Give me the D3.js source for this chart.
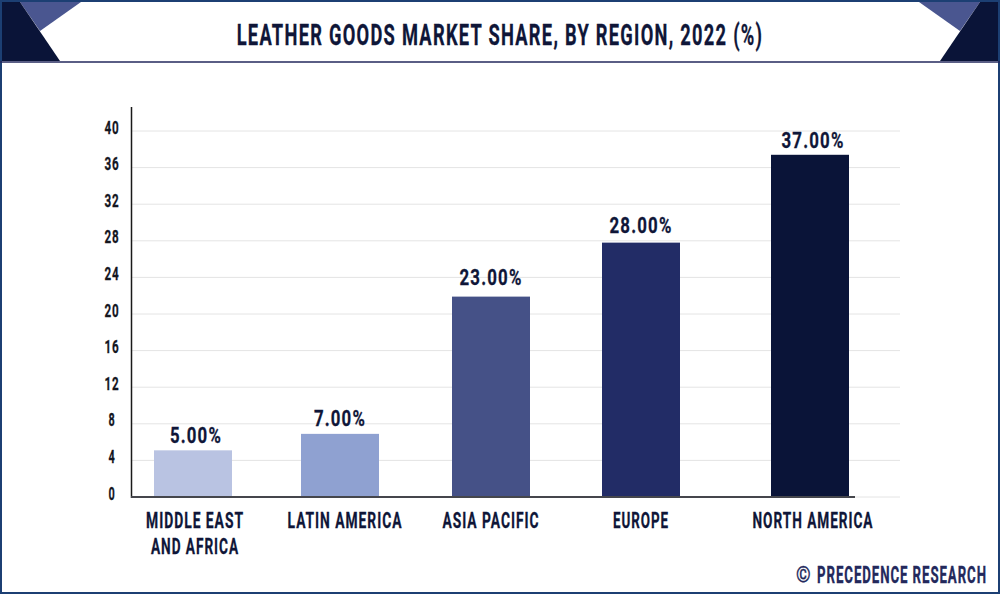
<!DOCTYPE html>
<html>
<head>
<meta charset="utf-8">
<script src="https://cdn.jsdelivr.net/npm/d3@7"></script>
<style>
  html, body { margin: 0; padding: 0; background: #fff; }
  svg { display: block; }
  text { font-family: "Roboto", "Liberation Sans", sans-serif; font-weight: 700; letter-spacing: 0.07em; stroke-width: 0.3px; }
</style>
</head>
<body>
<svg id="chart" width="1000" height="594"></svg>
<script>
// Chart data
const categories = ['MIDDLE EAST|AND AFRICA', 'LATIN AMERICA', 'ASIA PACIFIC', 'EUROPE', 'NORTH AMERICA'];
const barValues = [5.1, 6.9, 21.9, 27.8, 37.4];
const valueLabels = ['5.00%', '7.00%', '23.00%', '28.00%', '37.00%'];
const barColors = ['#b9c3e2', '#8fa1d1', '#455187', '#222c66', '#0a1438'];
const yTicks = [0, 4, 8, 12, 16, 20, 24, 28, 32, 36, 40];

const chartTitle = 'LEATHER GOODS MARKET SHARE, BY REGION, 2022 (%)';
const credit = 'PRECEDENCE RESEARCH';

// Layout
const svg = d3.select('#chart');
const inkColor = '#0f1638';

const x = d3.scaleOrdinal().domain(categories).range([193, 340, 491, 641, 810]);
const y = d3.scaleLinear().domain([0, 40]).range([497, 131]);
const barWidth = 78;

// Draws condensed text: the installed fonts are too wide, so each string is squeezed to a set width
function squeezed(parent, str, cx, baseline, width, size, color) {
  const label = parent.append('text')
    .attr('text-anchor', 'middle')
    .attr('font-size', size)
    .attr('fill', color)
    .attr('stroke', color)
    .text(str);
  const scale = width / label.node().getComputedTextLength();
  label.attr('transform', `translate(${cx},${baseline}) scale(${scale},1)`);
  return label;
}

// Frame and title band
svg.append('rect').attr('x', 1).attr('y', 1).attr('width', 998).attr('height', 592)
  .attr('fill', '#fff').attr('stroke', '#1c3f73').attr('stroke-width', 2);
svg.append('line').attr('x1', 0).attr('x2', 1000).attr('y1', 62).attr('y2', 62)
  .attr('stroke', '#23295c').attr('stroke-width', 1.5);

const corners = svg.append('g');
corners.append('polygon').attr('points', '20,2 81,2 40,31').attr('fill', '#4a5690');
corners.append('polygon').attr('points', '2,2 20,2 60,61 2,61').attr('fill', '#0a1438');
corners.append('polygon').attr('points', '980,2 919,2 960,31').attr('fill', '#4a5690');
corners.append('polygon').attr('points', '998,2 980,2 940,61 998,61').attr('fill', '#0a1438');

squeezed(svg, chartTitle, 500, 45, 527, 29, inkColor);

// Gridlines
svg.append('g').selectAll('line')
  .data(yTicks.filter(d => d > 0))
  .join('line')
  .attr('x1', 132)
  .attr('x2', 900)
  .attr('y1', d => y(d))
  .attr('y2', d => y(d))
  .attr('stroke', '#e4e4e4')
  .attr('stroke-width', 1);
svg.append('line').attr('x1', 855).attr('x2', 900).attr('y1', y(0)).attr('y2', y(0))
  .attr('stroke', '#e4e4e4');

// Y axis tick labels
const yLabels = svg.append('g');
yTicks.forEach(d => {
  squeezed(yLabels, String(d), 112, y(d) + 2.5, d < 10 ? 7 : 15, 19, '#14161f');
});

// Bars
svg.append('g').selectAll('rect')
  .data(categories)
  .join('rect')
  .attr('x', d => x(d) - barWidth / 2)
  .attr('width', barWidth)
  .attr('y', (d, i) => y(barValues[i]))
  .attr('height', (d, i) => y(0) - y(barValues[i]))
  .attr('fill', (d, i) => barColors[i]);

// Axis lines
svg.append('line').attr('x1', 131.5).attr('x2', 131.5).attr('y1', 107).attr('y2', 498)
  .attr('stroke', '#1a1a1a').attr('stroke-width', 1.5);
svg.append('line').attr('x1', 131).attr('x2', 855).attr('y1', y(0)).attr('y2', y(0))
  .attr('stroke', '#45464c').attr('stroke-width', 2);

// Value labels
const valueWidths = [52, 52, 63, 63, 63];
const valueOffsets = [3, 0, 0, 0, 3];
const valueGaps = [7, 8, 12, 10, 7];
const valueGroup = svg.append('g');
categories.forEach((d, i) => {
  squeezed(valueGroup, valueLabels[i], x(d) + valueOffsets[i], y(barValues[i]) - valueGaps[i], valueWidths[i], 22, inkColor);
});

// Category labels
const categoryWidths = [98, 115, 97, 56, 121];
const categoryOffsets = [2, 5, 0, 0, 3];
const categoryGroup = svg.append('g');
categories.forEach((d, i) => {
  d.split('|').forEach((line, j) => {
    const w = j === 0 ? categoryWidths[i] : 88;
    squeezed(categoryGroup, line, x(d) + categoryOffsets[i], 528 + j * 26, w, 22, inkColor);
  });
});

// Credit
squeezed(svg, '\u00a9', 804, 582, 16, 22, '#23295c');
squeezed(svg, credit, 902, 583, 170, 23, '#23295c');
</script>
</body>
</html>
